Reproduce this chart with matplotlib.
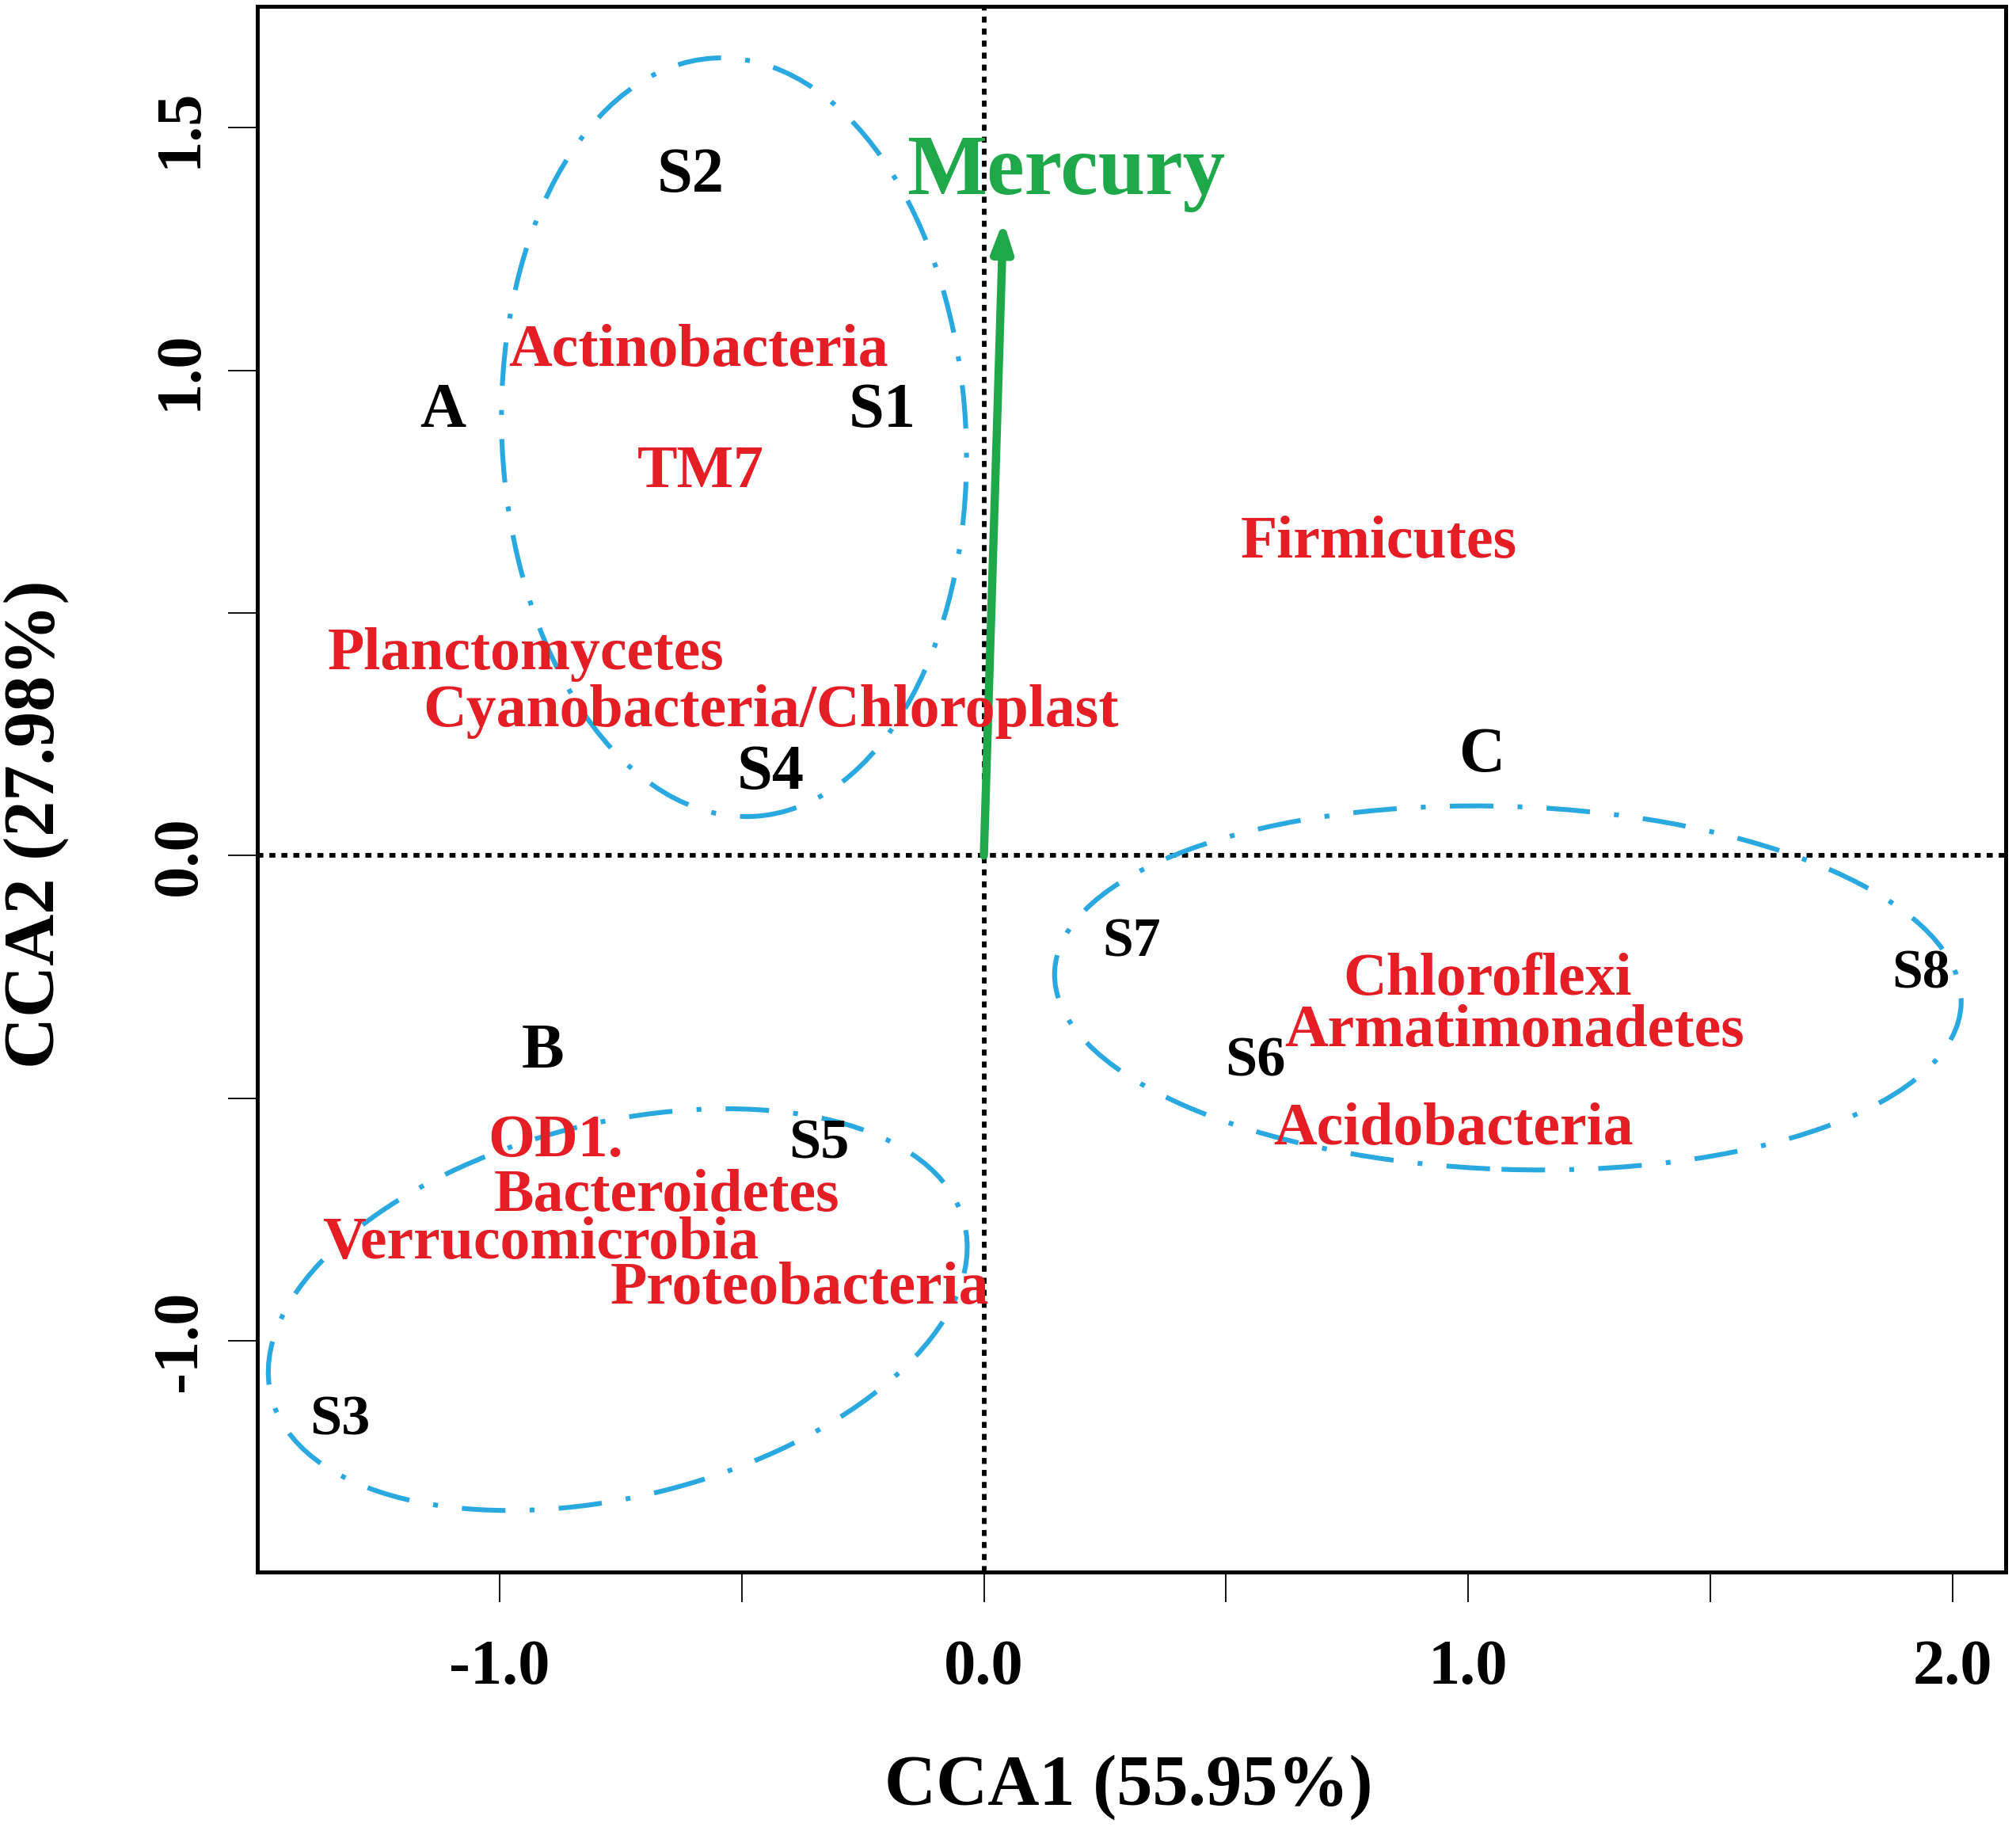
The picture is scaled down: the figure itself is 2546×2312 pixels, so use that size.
import numpy as np
import matplotlib
matplotlib.use("Agg")
import matplotlib.pyplot as plt
from matplotlib.patches import Ellipse

plt.rcParams['font.family'] = ['Liberation Serif', 'DejaVu Serif']
plt.rcParams['font.weight'] = 'bold'

# site scores (sample labels)
site_names = ['S1', 'S2', 'S3', 'S4', 'S5', 'S6', 'S7', 'S8']
site_x = [-0.21, -0.605, -1.33, -0.44, -0.34, 0.56, 0.305, 1.935]
site_y = [0.915, 1.40, -1.165, 0.17, -0.595, -0.425, -0.18, -0.245]
site_size = [58, 58, 52, 58, 52, 52, 50, 50]

# species (phyla) scores
phyla = ['Actinobacteria', 'TM7', 'Firmicutes', 'Planctomycetes',
         'Cyanobacteria/Chloroplast', 'Chloroflexi', 'Armatimonadetes',
         'Acidobacteria', 'OD1.', 'Bacteroidetes', 'Verrucomicrobia',
         'Proteobacteria']
phyla_x = [-0.59, -0.585, 0.815, -0.945, -0.44, 1.04, 1.095, 0.97,
           -0.885, -0.655, -0.915, -0.38]
phyla_y = [1.04, 0.79, 0.645, 0.414, 0.296, -0.257, -0.363, -0.566,
           -0.59, -0.703, -0.80, -0.893]

# group labels
group_names = ['A', 'B', 'C']
group_x = [-1.117, -0.91, 1.028]
group_y = [0.915, -0.405, 0.205]

# group ellipses: centre x, centre y, width, height, angle
ell_cx = [-0.516, -0.756, 1.082]
ell_cy = [0.862, -0.936, -0.273]
ell_w = [0.958, 1.475, 1.873]
ell_h = [1.565, 0.77, 0.748]
ell_ang = [3, 14, -2]

# environmental vector
env_name = 'Mercury'
env_x = 0.04
env_y = 1.308
env_label_x = 0.17
env_label_y = 1.405

red = '#e51d25'
green = '#1fa84a'
blue = '#2aa8e0'

fig = plt.figure(figsize=(25.46, 23.12), dpi=100)
ax = fig.add_axes([0.1277, 0.1414, 0.8672, 0.8551])
ax.set_xlim(-1.5, 2.11)
ax.set_ylim(-1.477, 1.75)

ax.axhline(0, color='black', lw=4.2, ls=(0, (1.3, 1.3)), zorder=1)
ax.axvline(0, color='black', lw=4.2, ls=(0, (1.3, 1.3)), zorder=1)

for cx, cy, w, h, a in zip(ell_cx, ell_cy, ell_w, ell_h, ell_ang):
    e = Ellipse((cx, cy), w, h, angle=a, fill=False, edgecolor=blue,
                lw=4.4, ls=(0, (9, 5, 1, 5)), zorder=2)
    ax.add_patch(e)

ax.annotate('', xy=(env_x, env_y), xytext=(0, 0),
            arrowprops=dict(arrowstyle='-|>,head_length=0.85,head_width=0.3',
                            color=green, lw=7.5, mutation_scale=25,
                            shrinkA=0, shrinkB=0), zorder=3)
ax.text(env_label_x, env_label_y, env_name, color=green, fontsize=77,
        fontweight='bold', ha='center', va='center', zorder=4)

for n, x, y in zip(phyla, phyla_x, phyla_y):
    ax.text(x, y, n, color=red, fontsize=54.5, fontweight='bold',
            ha='center', va='center', zorder=4)

for n, x, y, s in zip(site_names, site_x, site_y, site_size):
    ax.text(x, y, n, color='black', fontsize=s, fontweight='bold',
            ha='center', va='center', zorder=4)

for n, x, y in zip(group_names, group_x, group_y):
    ax.text(x, y, n, color='black', fontsize=58, fontweight='bold',
            ha='center', va='center', zorder=4)

ax.set_xticks([-1.0, -0.5, 0.0, 0.5, 1.0, 1.5, 2.0])
ax.set_xticklabels(['-1.0', '', '0.0', '', '1.0', '', '2.0'])
ax.set_yticks([-1.0, -0.5, 0.0, 0.5, 1.0, 1.5])
ax.set_yticklabels(['-1.0', '', '0.0', '', '1.0', '1.5'])
ax.tick_params(axis='both', direction='out', length=27, width=1.3,
               labelsize=58)
ax.tick_params(axis='x', pad=34)
ax.tick_params(axis='y', pad=17)
for lab in ax.get_yticklabels():
    lab.set_rotation(90)
    lab.set_va('center')
for lab in ax.get_xticklabels() + ax.get_yticklabels():
    lab.set_fontweight('bold')
for sp in ax.spines.values():
    sp.set_linewidth(3.6)

fig.text(0.56, 0.024, 'CCA1 (55.95%)', fontsize=65, fontweight='bold',
         ha='center', va='center')
fig.text(0.018, 0.55, 'CCA2 (27.98%)', fontsize=65, fontweight='bold',
         ha='center', va='center', rotation=90)

fig.savefig('out.png', dpi=100, facecolor='white')
